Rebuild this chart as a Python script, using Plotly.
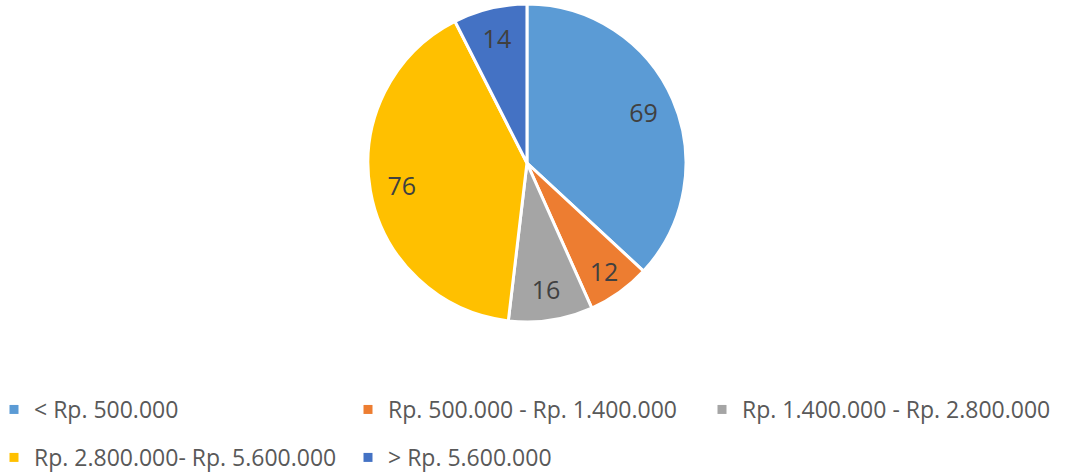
import plotly.graph_objects as go

categories = ["< Rp. 500.000", "Rp. 500.000 - Rp. 1.400.000", "Rp. 1.400.000 - Rp. 2.800.000",
              "Rp. 2.800.000- Rp. 5.600.000", "> Rp. 5.600.000"]
values = [69, 12, 16, 76, 14]
colors = ["#5B9BD5", "#ED7D31", "#A5A5A5", "#FFC000", "#4472C4"]
legend_rows = ["legend", "legend", "legend", "legend2", "legend2"]

domain = dict(x=[0.3455, 0.6441], y=[0.3192, 0.9915])

fig = go.Figure()
fig.add_trace(go.Pie(
    labels=categories,
    values=values,
    sort=False,
    direction="clockwise",
    rotation=0,
    marker=dict(colors=colors, line=dict(color="white", width=3)),
    textinfo="none",
    showlegend=False,
    domain=domain,
))
# transparent ring carrying the value labels near the outer edge
fig.add_trace(go.Pie(
    labels=categories,
    values=values,
    sort=False,
    direction="clockwise",
    rotation=0,
    hole=0.6,
    marker=dict(colors=["rgba(0,0,0,0)"] * len(values), line=dict(width=0)),
    textinfo="value",
    textposition="inside",
    insidetextorientation="horizontal",
    textfont=dict(family="Open Sans", size=25, color="#404040"),
    showlegend=False,
    hoverinfo="skip",
    domain=domain,
))

# legend entries (two rows, like the original)
for name, col, lg in zip(categories, colors, legend_rows):
    fig.add_trace(go.Scatter(
        x=[None], y=[None], mode="markers", name=name,
        marker=dict(symbol="square", size=9, color=col),
        legend=lg, showlegend=True,
    ))

leg_common = dict(
    orientation="h",
    x=0, xanchor="left",
    yanchor="top",
    entrywidth=315,
    indentation=-6,
    itemwidth=30,
    font=dict(family="Open Sans", size=23, color="#595959"),
    bgcolor="rgba(0,0,0,0)",
)

fig.update_layout(
    width=1065, height=473,
    margin=dict(l=0, r=0, t=0, b=0, autoexpand=False),
    paper_bgcolor="white",
    plot_bgcolor="rgba(0,0,0,0)",
    xaxis=dict(visible=False),
    yaxis=dict(visible=False),
    showlegend=True,
    legend=dict(y=0.1797, **leg_common),
    legend2=dict(y=0.0783, **leg_common),
)

fig.write_html("out.html", config={"displayModeBar": False},
               post_script="document.body.style.margin='0';")
